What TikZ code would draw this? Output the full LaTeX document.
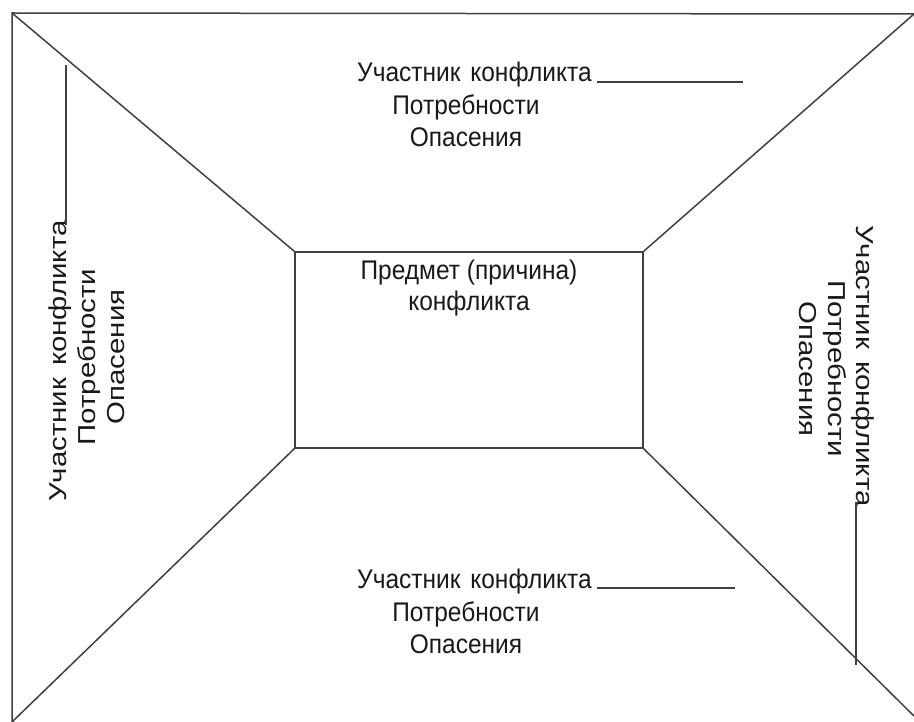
\documentclass[tikz,border=0pt]{standalone}
\usepackage{fontspec}
\setmainfont{Liberation Sans}
\begin{document}
\begin{tikzpicture}[x=1pt,y=-1pt,
  frame/.style={draw=black!75,line width=1.5pt},
  lbl/.style={inner sep=0pt,text=black!90,font=\fontsize{24.5}{28}\selectfont},
  hlbl/.style={lbl,yscale=1.1},
  vup/.style={lbl,rotate=90,xscale=1.2},
  vdown/.style={lbl,rotate=-90,xscale=1.2},
  uline/.style={draw=black!75,line width=1.1pt}]
\useasboundingbox (0,0) rectangle (914,722);
% outer frame (visible edges)
\coordinate (otl) at (12,13);
\coordinate (otr) at (914,14);
\coordinate (obl) at (12,722);
\coordinate (obr) at (914,716);
\draw[frame] (obl) -- (otl) -- (otr);
% inner rectangle
\node[frame,minimum width=348pt,minimum height=196pt,inner sep=0pt] (subj) at (469,350) {};
\draw[frame] (otl) -- (subj.north west);
\draw[frame] (otr) -- (subj.north east);
\draw[frame] (obl) -- (subj.south west);
\draw[frame] (obr) -- (subj.south east);
% centre text
\node[hlbl,anchor=base] (c1) at (469,280) {Предмет (причина)};
\node[hlbl,anchor=base] (c2) at (469,311) {конфликта};
% top block
\node[hlbl,anchor=base west] (t1) at (357,82) {Участник\hspace{0.4em}конфликта};
\coordinate (t1e) at (743,82);
\draw[uline] ([xshift=5pt]t1.base east) -- (t1e);
\node[hlbl,anchor=base] (t2) at (466,115) {Потребности};
\node[hlbl,anchor=base] (t3) at (466,147) {Опасения};
% bottom block
\node[hlbl,anchor=base west] (b1) at (357,588) {Участник\hspace{0.4em}конфликта};
\coordinate (b1e) at (735,588);
\draw[uline] ([xshift=5pt]b1.base east) -- (b1e);
\node[hlbl,anchor=base] (b2) at (466,621) {Потребности};
\node[hlbl,anchor=base] (b3) at (466,653) {Опасения};
% left block (reads upwards)
\node[vup,anchor=base west] (l1) at (66,502) {Участник\hspace{0.4em}конфликта};
\coordinate (l1e) at (66,65);
\draw[uline] ([yshift=-5pt]l1.base east) -- (l1e);
\node[vup,anchor=base] (l2) at (95,357) {Потребности};
\node[vup,anchor=base] (l3) at (124,357) {Опасения};
% right block (reads downwards)
\node[vdown,anchor=base west] (r1) at (856,225) {Участник\hspace{0.4em}конфликта};
\coordinate (r1e) at (856,665);
\draw[uline] ([yshift=5pt]r1.base east) -- (r1e);
\node[vdown,anchor=base] (r2) at (828,369) {Потребности};
\node[vdown,anchor=base] (r3) at (799,369) {Опасения};
\end{tikzpicture}
\end{document}
